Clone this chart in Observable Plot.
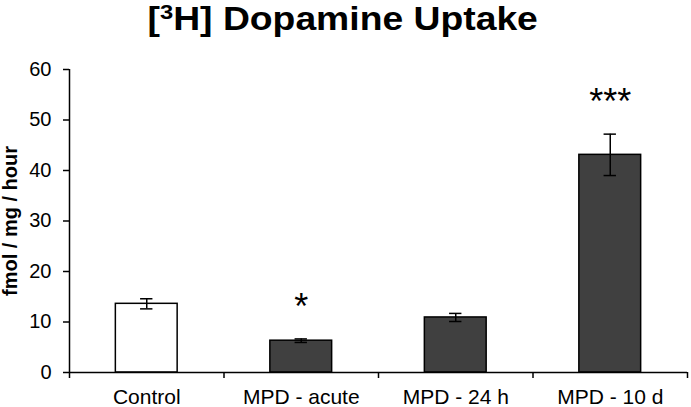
<!DOCTYPE html>
<html>
<head>
<meta charset="utf-8">
<script src="https://cdn.jsdelivr.net/npm/d3@7"></script>
<script src="https://cdn.jsdelivr.net/npm/@observablehq/plot@0.6"></script>
<style>
  html, body { margin: 0; padding: 0; background: #fff; }
  #title { height: 52px; width: 686px; text-align: center; font-family: "Liberation Sans", Arial, sans-serif; font-weight: bold; font-size: 33px; line-height: 38px; color: #000; overflow: hidden; }
  #title span { display: inline-block; transform: scaleX(1.13); transform-origin: center; }
  #title sup { font-size: 21px; vertical-align: 0; position: relative; top: -11px; }
  svg { display: block; }
</style>
</head>
<body>
<div id="title"><span>[<sup>3</sup>H] Dopamine Uptake</span></div>
<div id="chart"></div>
<script>
const categories = ["Control", "MPD - acute", "MPD - 24 h", "MPD - 10 d"];
const means = [13.6, 6.3, 10.9, 43.1];
const errors = [1.0, 0.35, 0.8, 4.1];
const significance = ["", "*", "", "***"];
const fills = ["#ffffff", "#404040", "#404040", "#404040"];
const yTicks = [0, 10, 20, 30, 40, 50, 60];
const boundaryTicks = [0, 1, 2, 3, 4];
const yLabel = "fmol / mg / hour";

const data = categories.map((c, i) => ({
  i, c, mean: means[i], err: errors[i], sig: significance[i], fill: fills[i]
}));

const chart = Plot.plot({
  width: 691,
  height: 355,
  marginTop: 17,
  marginBottom: 35,
  marginLeft: 69,
  marginRight: 4,
  style: { fontFamily: "Liberation Sans, Arial, sans-serif", color: "#000", background: "#fff" },
  x: { domain: [0, 4] },
  y: { domain: [0, 60] },
  marks: [
    Plot.rectY(data, { x1: d => d.i + 0.3, x2: d => d.i + 0.7, y1: 0, y2: "mean", fill: "fill", stroke: "#000", strokeWidth: 1.5 }),
    Plot.ruleX(data, { x: d => d.i + 0.5, y1: d => d.mean - d.err, y2: d => d.mean + d.err, stroke: "#000", strokeWidth: 1.5 }),
    Plot.ruleY(data, { y: d => d.mean - d.err, x1: d => d.i + 0.46, x2: d => d.i + 0.54, stroke: "#000", strokeWidth: 1.5 }),
    Plot.ruleY(data, { y: d => d.mean + d.err, x1: d => d.i + 0.46, x2: d => d.i + 0.54, stroke: "#000", strokeWidth: 1.5 }),
    Plot.text(data, { x: d => d.i + 0.5, y: d => d.mean + d.err, text: "sig", dy: -20, fontSize: 36, fill: "#000", lineAnchor: "bottom" }),
    Plot.ruleX([0], { stroke: "#000", strokeWidth: 1.5 }),
    Plot.ruleY([0], { stroke: "#000", strokeWidth: 1.5 }),
    Plot.axisY({ ticks: yTicks, tickSize: 6, tickPadding: 12, fontSize: 20, label: null, stroke: "#000", strokeWidth: 1.5 }),
    Plot.axisX({ ticks: boundaryTicks, tickSize: 6, tickFormat: () => "", label: null, stroke: "#000", strokeWidth: 1.5 }),
    Plot.text(data, { x: d => d.i + 0.5, y: 0, text: "c", dy: 17, lineAnchor: "top", fontSize: 21, fill: "#000" }),
    Plot.text([yLabel], { frameAnchor: "left", dx: -59, rotate: -90, textAnchor: "middle", text: d => d, fontSize: 20, fontWeight: "bold", fill: "#000" })
  ]
});
document.getElementById("chart").appendChild(chart);
</script>
</body>
</html>
